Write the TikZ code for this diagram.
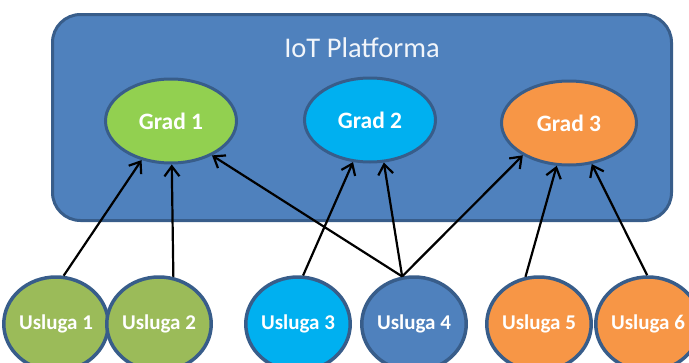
\documentclass[tikz,border=0pt]{standalone}
\usepackage{fontspec}
\setmainfont{Carlito}
\usepackage{tikz}
\usetikzlibrary{
	arrows.meta,
	positioning,
	shapes.geometric
}
\definecolor{PlatBlue}{RGB}{79,129,189}
\definecolor{EdgeBlue}{RGB}{56,93,138}
\definecolor{CityGreen}{RGB}{146,208,80}
\definecolor{CityBlue}{RGB}{0,176,240}
\definecolor{CityOrange}{RGB}{247,150,70}
\definecolor{ServGreen}{RGB}{155,187,89}

\begin{document}
\begin{tikzpicture}[x=1pt, y=-1pt,
		grad/.style={ellipse, draw=EdgeBlue, line width=3pt, text=white, font=\bfseries\fontsize{23.5}{26}\selectfont, minimum width=131pt, minimum height=84pt, inner sep=0pt},
		usluga/.style={ellipse, draw=EdgeBlue, line width=3.5pt, text=white, font=\bfseries\fontsize{21}{24}\selectfont, minimum width=92pt, minimum height=94pt, inner sep=0pt},
		link/.style={line width=2.2pt, -{Straight Barb[length=10pt, width=15pt]}}]
		\clip (0,0) rectangle (689,362);
		
		\node[draw=EdgeBlue, fill=PlatBlue, line width=3pt, rounded corners=28pt, minimum width=619pt, minimum height=206pt] (plat) at (362,117.5) {};
		\node[text=white!92!PlatBlue, font=\fontsize{28.5}{31}\selectfont, below=21pt of plat.north] (title) {IoT Platforma};
		
		\node[grad, fill=CityGreen] (g1) at (171,121) {Grad 1};
		\node[grad, fill=CityBlue] (g2) at (370,120) {Grad 2};
		\node[grad, fill=CityOrange, minimum width=135pt] (g3) at (569,123) {Grad 3};
		
		\node[usluga, fill=ServGreen] (u1) at (56,324) {Usluga 1};
		\node[usluga, fill=ServGreen] (u2) at (159,324) {Usluga 2};
		\node[usluga, fill=CityBlue] (u3) at (298,324) {Usluga 3};
		\node[usluga, fill=PlatBlue] (u4) at (414,324) {Usluga 4};
		\node[usluga, fill=CityOrange] (u5) at (539,324) {Usluga 5};
		\node[usluga, fill=CityOrange] (u6) at (648,324) {Usluga 6};
		
		% usluge -> gradovi
		\draw[link] (u1.81) -- (g1.-127);
		\draw[link] (u2.73) -- (g1.-89);
		\draw[link] (u3.84) -- (g2.-112);
		\draw[link] (u4.104) -- (g1.-40);
		\draw[link] (u4.104) -- (g2.-72);
		\draw[link] (u4.104) -- (g3.-145);
		\draw[link] (u5.106) -- (g3.-106);
		\draw[link] (u6.91) -- (g3.-61);
	\end{tikzpicture}
\end{document}
